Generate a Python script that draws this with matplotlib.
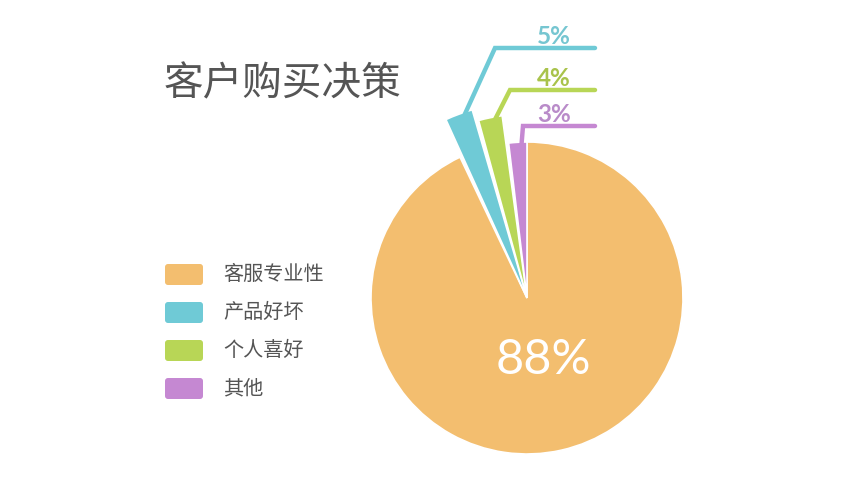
import numpy as np
import matplotlib
matplotlib.use("Agg")
import matplotlib.pyplot as plt
from matplotlib.patches import Wedge, FancyBboxPatch

plt.rcParams["font.family"] = ["Noto Sans CJK SC", "DejaVu Sans"]

# data
categories = ["客服专业性", "产品好坏", "个人喜好", "其他"]
shares = [88, 5, 4, 3]
colors = ["#F3BE6F", "#6FCAD6", "#B8D656", "#C588D2"]
label_colors = ["#FFFFFF", "#76C6D1", "#A9C34B", "#B98BC9"]
title = "客户购买决策"

W, H = 866, 500
TEXT = "#555555"

fig = plt.figure(figsize=(W / 100, H / 100), dpi=100)
ax = fig.add_axes([0, 0, 1, 1])
ax.set_xlim(0, W)
ax.set_ylim(0, H)
ax.axis("off")

# pie geometry (pixel coords, y up)
cx, cy = 527, 202
r_main = 156
radii = [r_main, 196, 184, 156]        # small slices pulled out further
elbow = [None, (495, 452), (510, 410), (523, 374)]
line_end = 595
gap = 1.0

# small slices are stacked anticlockwise from 12 o'clock, widened for readability
start = 90.0
angles = {}
for i in (3, 2, 1):
    span = 4.6 + 0.72 * shares[i]
    angles[i] = (start, start + span)
    start += span + gap
angles[0] = (start, 450.0)

for i in range(len(shares)):
    t1, t2 = angles[i]
    ax.add_patch(Wedge((cx, cy), radii[i], t1, t2, facecolor=colors[i],
                       edgecolor="white", linewidth=1.2))

# leader lines + labels for the small slices
for i in (1, 2, 3):
    t1, t2 = angles[i]
    a = np.radians(t1 + 0.3 * (t2 - t1))
    sx = cx + (radii[i] - 2) * np.cos(a)
    sy = cy + (radii[i] - 2) * np.sin(a)
    ex, ey = elbow[i]
    ax.plot([sx, ex, line_end], [sy, ey, ey], color=colors[i], lw=3.2,
            solid_capstyle="round", solid_joinstyle="miter")
    ax.text(line_end - 41, ey + 4, f"{shares[i]}%", color=label_colors[i],
            fontsize=17.5, ha="center", va="baseline",
            family=["Lato", "DejaVu Sans"], fontweight="bold")

# big label
ax.text(543, 140, f"{shares[0]}%", color="white", fontsize=35,
        ha="center", va="center", family=["Lato", "DejaVu Sans"],
        fontweight="normal")

# title
ax.text(164, 416, title, color=TEXT, fontsize=28.5, ha="left", va="center")

# legend
row_y = [225.5, 187.5, 149.5, 111.5]
for i, cat in enumerate(categories):
    ax.add_patch(FancyBboxPatch((167, row_y[i] - 8.5), 34, 17,
                                boxstyle="round,pad=2,rounding_size=3",
                                facecolor=colors[i], edgecolor="none"))
    ax.text(223, row_y[i], cat, color=TEXT, fontsize=14.5,
            ha="left", va="center")

fig.savefig("out.png", dpi=100)
